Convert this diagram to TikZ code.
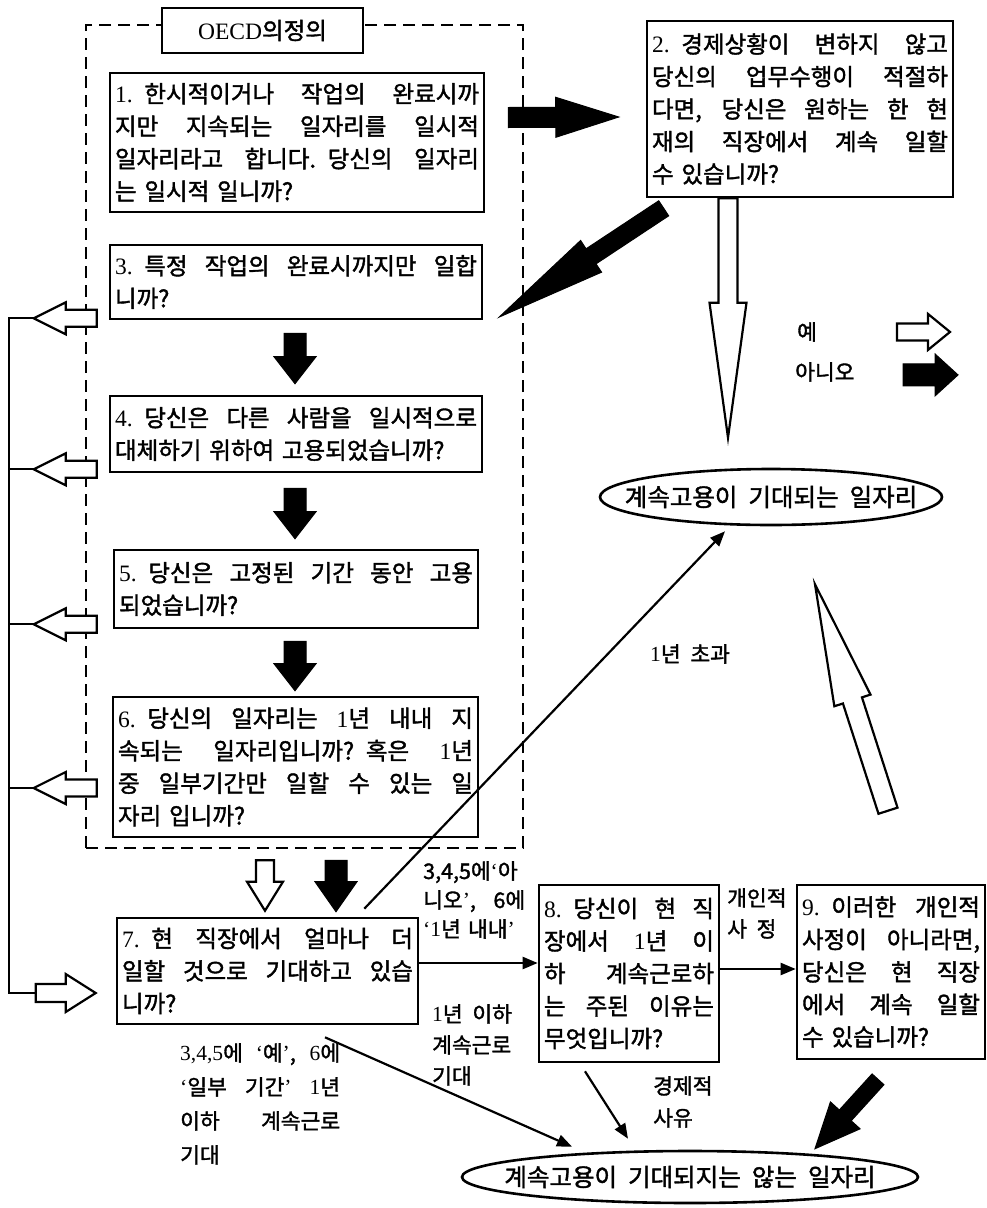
\documentclass[tikz,border=0pt]{standalone}
\usepackage{fontspec}
\setmainfont{Noto Sans CJK KR}[FakeBold=1.6]
\newfontfamily\lat{Liberation Serif}
\usetikzlibrary{calc,arrows.meta,shapes.geometric}
\newcommand\jl[1]{\makebox[\hsize][s]{\spaceskip=0.4em plus 1fil minus 0.25em\relax #1}\\}
\newcommand\wsp{\spaceskip=0.45em plus 0.2em minus 0.1em\relax}
\newcommand{\blockarrow}[6]{%
  \coordinate (bah) at ($(#3)!#6!(#2)$);
  \draw[#1] ($(#2)!#4!90:(#3)$) -- ($(bah)!#4!90:(#3)$) -- ($(bah)!#5!90:(#3)$) -- (#3)
    -- ($(bah)!#5!-90:(#3)$) -- ($(bah)!#4!-90:(#3)$) -- ($(#2)!#4!-90:(#3)$) -- cycle;}
\begin{document}
\begin{tikzpicture}[x=1pt,y=-1pt]
\tikzset{
 qbox/.style={draw, line width=2.6pt, inner xsep=5pt, inner ysep=0pt, align=left, font=\fontsize{23.5}{32.5}\selectfont\wsp},
 lbl/.style={anchor=north west, inner sep=0pt, align=left, font=\fontsize{21.5}{31}\selectfont\wsp},
 ell/.style={draw, ellipse, line width=2.6pt, inner sep=0pt},
 elltext/.style={inner sep=0pt, font=\fontsize{24.5}{28}\selectfont\wsp},
 conn/.style={line width=2.2pt, -{Triangle[length=15pt,width=12pt]}},
 wba/.style={draw=black, fill=white, line width=2.2pt, line join=miter},
 bba/.style={draw=black, fill=black, line width=1pt, line join=miter},
 grp/.style={draw, line width=2.4pt, dash pattern=on 12pt off 7pt},
}
\useasboundingbox (0,0) rectangle (987,1208);
\fill[white] (0,0) rectangle (987,1208);

% group frame and title
\node[grp, minimum width=437pt, minimum height=823pt, inner sep=0pt] (grp) at (304.5,436.5) {};
\node[draw, line width=2.6pt, fill=white, minimum width=201pt, minimum height=45pt, inner sep=0pt, font=\fontsize{23.5}{27}\selectfont] (oecd) at (262.5,30.5) {{\lat OECD}의정의};

% question boxes
\node[qbox, text width=364pt, minimum height=139pt] (b1) at (297,142.5) {\jl{{\lat 1.} 한시적이거나 작업의 완료시까}\jl{지만 지속되는 일자리를 일시적}\jl{일자리라고 합니다. 당신의 일자리}는 일시적 일니까?};
\node[qbox, text width=296pt, minimum height=176pt] (b2) at (800,109) {\jl{{\lat 2.} 경제상황이 변하지 않고}\jl{당신의 업무수행이 적절하}\jl{다면, 당신은 원하는 한 현}\jl{재의 직장에서 계속 일할}수 있습니까?};
\node[qbox, text width=362pt, minimum height=74pt] (b3) at (296,282) {\jl{{\lat 3.} 특정 작업의 완료시까지만 일합}니까?};
\node[qbox, text width=362pt, minimum height=76pt] (b4) at (296,434) {\jl{{\lat 4.} 당신은 다른 사람을 일시적으로}대체하기 위하여 고용되었습니까?};
\node[qbox, text width=354pt, minimum height=78pt] (b5) at (296,589) {\jl{{\lat 5.} 당신은 고정된 기간 동안 고용}되었습니까?};
\node[qbox, text width=355pt, minimum height=140pt] (b6) at (295.5,767) {\jl{{\lat 6.} 당신의 일자리는 {\lat 1}년 내내 지}\jl{속되는 일자리입니까? 혹은 {\lat 1}년}\jl{중 일부기간만 일할 수 있는 일}자리 입니까?};
\node[qbox, text width=291pt, minimum height=106pt] (b7) at (267.5,971) {\jl{{\lat 7.} 현 직장에서 얼마나 더}\jl{일할 것으로 기대하고 있습}니까?};
\node[qbox, text width=170pt, minimum height=177pt] (b8) at (629,973.5) {\jl{{\lat 8.} 당신이 현 직}\jl{장에서 {\lat 1}년 이}\jl{하 계속근로하}\jl{는 주된 이유는}무엇입니까?};
\node[qbox, text width=178pt, minimum height=174pt] (b9) at (891,972) {\jl{{\lat 9.} 이러한 개인적}\jl{사정이 아니라면,}\jl{당신은 현 직장}\jl{에서 계속 일할}수 있습니까?};

% outcome ellipses
\node[ell, minimum width=342pt, minimum height=56pt] (e1) at (771,497) {};
\node[elltext] (e1t) at (e1.center) {계속고용이 기대되는 일자리};
\node[ell, minimum width=456pt, minimum height=52pt] (e2) at (690,1177) {};
\node[elltext] (e2t) at (e2.center) {계속고용이 기대되지는 않는 일자리};

% labels
\node[lbl, text width=102pt, font=\fontsize{21.5}{29}\selectfont] (l1) at (423,861) {\jl{3,4,5에{\lat ‘}아}\jl{니오{\lat ’}, 6에}{\lat ‘1}년 내내{\lat ’}};
\node[lbl] (l2) at (727,888) {개인적\\사 정};
\node[lbl] (l3) at (432,1004) {{\lat 1}년 이하\\계속근로\\기대};
\node[lbl, text width=160pt, font=\fontsize{21.5}{34}\selectfont] (l4) at (180,1043) {\jl{{\lat 3,4,5}에 {\lat ‘}예{\lat ’}, {\lat 6}에}\jl{{\lat ‘}일부 기간{\lat ’} {\lat 1}년}\jl{이하 계속근로}기대};
\node[lbl, font=\fontsize{21.5}{32}\selectfont] (l5) at (653,1076) {경제적\\사유};
\node[lbl] (l6) at (650,644) {{\lat 1}년 초과};
\node[lbl] (yes) at (797,322) {예};
\node[lbl] (no) at (795,362) {아니오};

% block arrows (black = 아니오, white = 예)
\coordinate (a1s) at ($(b1.east)+(23,-25)$);
\coordinate (a1e) at ($(b2.west)+(-27,8)$);
\blockarrow{bba}{a1s}{a1e}{10pt}{20pt}{63pt}
\coordinate (a2s) at ($(b2.south west)+(18,10)$);
\coordinate (a2e) at ($(b3.east)+(16,35)$);
\blockarrow{bba}{a2s}{a2e}{9pt}{19pt}{110pt}
\coordinate (a3s) at ($(b3.south)+(-1,13)$);
\coordinate (a3e) at ($(b4.north)+(-1,-11)$);
\blockarrow{bba}{a3s}{a3e}{11pt}{21pt}{27pt}
\coordinate (a4s) at ($(b4.south)+(-1,15)$);
\coordinate (a4e) at ($(b5.north)+(-1,-10)$);
\blockarrow{bba}{a4s}{a4e}{11pt}{21pt}{27pt}
\coordinate (a5s) at ($(b5.south)+(-1,12)$);
\coordinate (a5e) at ($(b6.north)+(-0.5,-5)$);
\blockarrow{bba}{a5s}{a5e}{11pt}{21pt}{27pt}
\coordinate (a6s) at ($(b6.south)+(-30.5,22)$);
\coordinate (a6e) at ($(b7.north)+(-2.5,-6)$);
\blockarrow{wba}{a6s}{a6e}{9pt}{18pt}{29pt}
\coordinate (a7s) at ($(b6.south)+(40.5,22)$);
\coordinate (a7e) at ($(b7.north)+(68.5,-5)$);
\blockarrow{bba}{a7s}{a7e}{11pt}{21pt}{30pt}
\coordinate (a8s) at ($(b2.south)+(-72,0)$);
\coordinate (a8e) at ($(e1.north)+(-43,-30)$);
\blockarrow{wba}{a8s}{a8e}{9.5pt}{18.5pt}{135pt}
\coordinate (a9s) at ($(b9.north)+(-3,-73)$);
\coordinate (a9e) at ($(e1.south)+(44,58)$);
\blockarrow{wba}{a9s}{a9e}{10pt}{19pt}{122pt}
\coordinate (a10s) at ($(b9.south)+(-13,19)$);
\coordinate (a10e) at ($(e2.north)+(125,-1)$);
\blockarrow{bba}{a10s}{a10e}{8pt}{20pt}{45pt}

% left-hand "yes" returns
\coordinate (w3s) at ($(b3.south west)+(-12,-2)$);
\coordinate (w3e) at ($(w3s)+(-63,0)$);
\coordinate (w4s) at ($(b4.south west)+(-12,-4)$);
\coordinate (w4e) at ($(w4s)+(-63,0)$);
\coordinate (w5s) at ($(b5.south west)+(-16,-5)$);
\coordinate (w5e) at ($(w5s)+(-63,0)$);
\coordinate (w6s) at ($(b6.west)+(-15,21)$);
\coordinate (w6e) at ($(w6s)+(-63,0)$);
\coordinate (w7e) at ($(b7.west)+(-20,22)$);
\coordinate (w7s) at ($(w7e)+(-60,0)$);
\coordinate (vtop) at ($(w3e)+(-25,0)$);
\draw[line width=2.2pt] (w3e) -- (vtop) -- (vtop |- w7s) -- (w7s);
\draw[line width=2.2pt] (w4e) -- (vtop |- w4e);
\draw[line width=2.2pt] (w5e) -- (vtop |- w5e);
\draw[line width=2.2pt] (w6e) -- (vtop |- w6e);
\blockarrow{wba}{w3s}{w3e}{8.5pt}{16pt}{32pt}
\blockarrow{wba}{w4s}{w4e}{8.5pt}{16pt}{32pt}
\blockarrow{wba}{w5s}{w5e}{8.5pt}{16pt}{32pt}
\blockarrow{wba}{w6s}{w6e}{8.5pt}{16pt}{32pt}
\blockarrow{wba}{w7s}{w7e}{9pt}{19pt}{30pt}

% legend arrows
\coordinate (ly1) at ($(yes.west)+(100,0)$);
\coordinate (ly2) at ($(yes.west)+(153,0)$);
\blockarrow{wba}{ly1}{ly2}{8.5pt}{18pt}{22pt}
\coordinate (ln1) at ($(no.west)+(108,3)$);
\coordinate (ln2) at ($(no.west)+(163,3)$);
\blockarrow{bba}{ln1}{ln2}{11pt}{21pt}{23pt}

% thin connectors
\draw[conn] ($(b7.north east)+(-55,-8)$) -- ($(e1.south)+(-46,5)$);
\draw[conn] ($(b7.east)+(0,-8)$) -- ($(b8.west)+(0,-10.5)$);
\draw[conn] ($(b8.east)+(0,-4.5)$) -- ($(b9.west)+(0,-3)$);
\draw[conn] ($(b7.south)+(57.5,12)$) -- ($(e2.north)+(-118,-3)$);
\draw[conn] ($(b8.south)+(-44,8)$) -- ($(e2.north)+(-62,-11)$);
\end{tikzpicture}
\end{document}
